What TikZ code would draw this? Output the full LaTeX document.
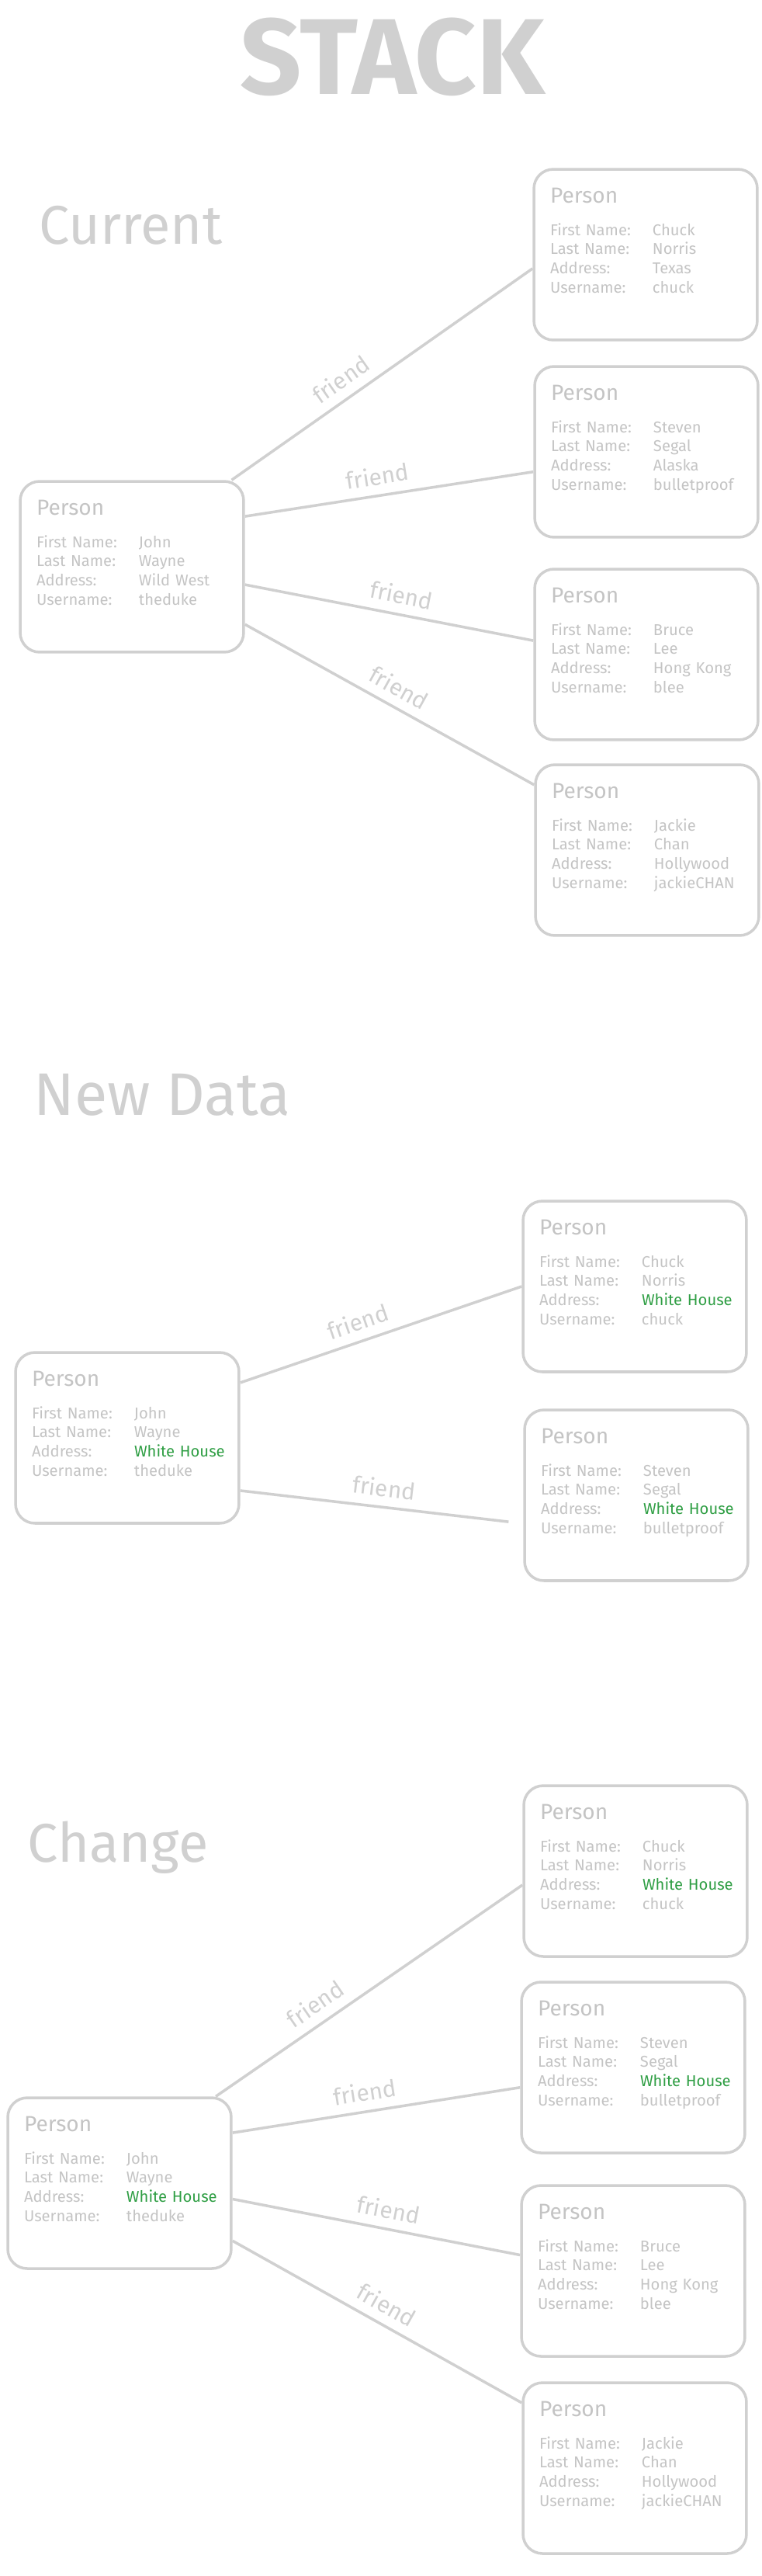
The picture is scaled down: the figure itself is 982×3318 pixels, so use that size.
\documentclass[tikz,border=0pt]{standalone}
\usepackage{fontspec}
\setmainfont{Fira Sans}
\usetikzlibrary{positioning}

\definecolor{sketch}{RGB}{208,208,208}
\definecolor{ink}{RGB}{196,196,196}
\definecolor{changed}{RGB}{47,158,68}

\newcommand{\moved}[1]{\textcolor{changed}{#1}}
\newcommand{\personcard}[4]{{\fontsize{16pt}{16pt}\selectfont Person}\\[9.7pt]
	\makebox[26.4mm][l]{First Name:}\mbox{#1}\\
	\makebox[26.4mm][l]{Last Name:}\mbox{#2}\\
	\makebox[26.4mm][l]{Address:}\mbox{#3}\\
	\makebox[26.4mm][l]{Username:}\mbox{#4}}

\begin{document}
\begin{tikzpicture}[x=0.02cm, y=-0.02cm,
	person/.style={rectangle, rounded corners=5mm, draw=sketch, line width=2pt, text=ink, align=left, text width=49.2mm, inner xsep=4.2mm, inner ysep=0pt, text height=8.6mm, text depth=35.4mm, font=\fontsize{11.5pt}{14.2pt}\selectfont},
	heading/.style={text=sketch, inner sep=0pt, anchor=base west, font=\fontsize{40pt}{40pt}\selectfont},
	friend/.style={draw=sketch, line width=2pt},
	lbl/.style={text=sketch, font=\fontsize{17pt}{17pt}\selectfont, above=2mm, inner sep=1pt, sloped}
	]
	
	\useasboundingbox (0,0) rectangle (982,3318);
	
	\node (stack) [heading, anchor=base, font=\bfseries\fontsize{79pt}{79pt}\selectfont] at (506,122) {STACK};
	
	% current
	\node (current) [heading] at (50,315) {Current};
		\node (curjohn) [person] at (170,730) {\personcard{John}{Wayne}{Wild West}{theduke}};
		\node (curchuck) [person] at (832,328) {\personcard{Chuck}{Norris}{Texas}{chuck}};
		\node (cursteven) [person] at (833,582) {\personcard{Steven}{Segal}{Alaska}{bulletproof}};
		\node (curbruce) [person] at (833,843) {\personcard{Bruce}{Lee}{Hong Kong}{blee}};
		\node (curjackie) [person] at (834,1095) {\personcard{Jackie}{Chan}{Hollywood}{jackieCHAN}};
	
	% new data
	\node (newdata) [heading, font=\fontsize{44pt}{44pt}\selectfont] at (43,1436) {New Data};
		\node (newjohn) [person] at (164,1852) {\personcard{John}{Wayne}{\moved{White House}}{theduke}};
		\node (newchuck) [person] at (818,1657) {\personcard{Chuck}{Norris}{\moved{White House}}{chuck}};
		\node (newsteven) [person] at (820,1926) {\personcard{Steven}{Segal}{\moved{White House}}{bulletproof}};
	
	% change
	\node (change) [heading] at (35,2398) {Change};
		\node (chjohn) [person] at (154,2812) {\personcard{John}{Wayne}{\moved{White House}}{theduke}};
		\node (chchuck) [person] at (819,2410) {\personcard{Chuck}{Norris}{\moved{White House}}{chuck}};
		\node (chsteven) [person] at (816,2663) {\personcard{Steven}{Segal}{\moved{White House}}{bulletproof}};
		\node (chbruce) [person] at (816,2925) {\personcard{Bruce}{Lee}{Hong Kong}{blee}};
		\node (chjackie) [person] at (818,3179) {\personcard{Jackie}{Chan}{Hollywood}{jackieCHAN}};
	
	\draw [friend] (curjohn.41) -- node (curf1) [lbl, pos=.4] {friend} (curchuck.187);
	\draw [friend] (curjohn.24) -- node (curf2) [lbl, pos=.47] {friend} (cursteven.190);
	\draw [friend] (curjohn.351) -- node (curf3) [lbl, pos=.53] {friend} (curbruce.173);
	\draw [friend] (curjohn.333) -- node (curf4) [lbl, pos=.5] {friend} (curjackie.150);
	
	\draw [friend] (newjohn.26) -- node (newf1) [lbl, pos=.44] {friend} (newchuck.west);
	\draw [friend, shorten >=3.8mm] (newjohn.335) -- node (newf2) [lbl, pos=.5] {friend} (newsteven.194);
	
	\draw [friend] (chjohn.42) -- node (chf1) [lbl, pos=.36] {friend} (chchuck.187);
	\draw [friend] (chjohn.24) -- node (chf2) [lbl, pos=.47] {friend} (chsteven.190);
	\draw [friend] (chjohn.352) -- node (chf3) [lbl, pos=.53] {friend} (chbruce.172);
	\draw [friend] (chjohn.333) -- node (chf4) [lbl, pos=.5] {friend} (chjackie.150);
	
\end{tikzpicture}
\end{document}
